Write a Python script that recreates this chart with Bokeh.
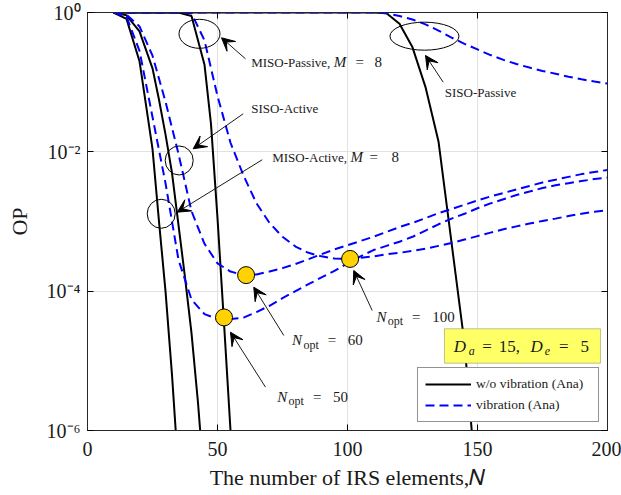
import math
from bokeh.plotting import figure
from bokeh.models import (FixedTicker, LinearAxis, LogAxis, CustomJSTickFormatter, Label,
                          Arrow, VeeHead, BoxAnnotation, Range1d, Legend, LegendItem)
from bokeh.embed import file_html
from bokeh.resources import INLINE

# ---------------- data ----------------
N = [10, 15, 20, 25, 30, 35, 40, 45, 50, 55, 60, 65, 70, 75, 80, 85, 90, 95, 100, 105,
     110, 115, 120, 125, 130, 135, 140, 145, 150, 155, 160, 165, 170, 175, 180, 185, 190, 195, 200]

# w/o vibration (solid black)
n_miso_act_nv = [10, 15, 20, 25, 27.5, 30, 32.5, 35]
op_miso_act_nv = [1.0, 0.81, 0.20, 1.1e-2, 1.0e-3, 1.0e-4, 6.3e-6, 2.5e-7]

n_siso_act_nv = [10, 15, 20, 25, 27.5, 30, 32.5, 35, 37.5, 40, 42.5, 45]
op_siso_act_nv = [1.0, 0.912, 0.537, 0.158, 5.6e-2, 1.78e-2, 5.0e-3, 8.9e-4, 1.58e-4, 2.5e-5, 2.5e-6, 1.6e-7]

n_miso_pas_nv = [10, 35, 40, 45, 47.5, 50, 52.5, 55, 57.5]
op_miso_pas_nv = [1.0, 1.0, 0.89, 0.178, 2.5e-2, 1.12e-3, 3.5e-5, 1.0e-6, 3.2e-8]

n_siso_pas_nv = [10, 110, 115, 120, 125, 130, 135, 140, 145, 150]
op_siso_pas_nv = [1.0, 1.0, 0.977, 0.69, 0.316, 8.5e-2, 1.41e-2, 5.0e-4, 1.78e-5, 1.0e-7]

# vibration (dashed blue), sampled on N
op_miso_act_v = [1.0, 0.871, 0.282, 3.16e-2, 3.55e-3, 2.82e-4, 7.59e-5, 4.68e-5, 3.98e-5, 3.98e-5,
                 4.17e-5, 5.01e-5, 6.17e-5, 7.94e-5, 1.0e-4, 1.26e-4, 1.58e-4, 1.95e-4, 2.51e-4, 3.16e-4,
                 3.89e-4, 4.47e-4, 5.13e-4, 6.03e-4, 7.41e-4, 9.12e-4, 1.10e-3, 1.29e-3, 1.55e-3, 1.82e-3,
                 2.09e-3, 2.40e-3, 2.69e-3, 3.02e-3, 3.31e-3, 3.55e-3, 3.80e-3, 4.07e-3, 4.27e-3]
op_siso_act_v = [1.0, 0.933, 0.631, 0.240, 5.25e-2, 9.33e-3, 1.41e-3, 4.79e-4, 2.51e-4, 1.91e-4,
                 1.70e-4, 1.74e-4, 1.91e-4, 2.14e-4, 2.45e-4, 2.88e-4, 3.39e-4, 3.98e-4, 4.57e-4, 5.25e-4,
                 6.03e-4, 7.08e-4, 8.32e-4, 9.55e-4, 1.12e-3, 1.32e-3, 1.51e-3, 1.74e-3, 2.0e-3, 2.29e-3,
                 2.57e-3, 2.88e-3, 3.24e-3, 3.63e-3, 3.98e-3, 4.37e-3, 4.79e-3, 5.13e-3, 5.5e-3]
op_miso_pas_v = [1.0, 1.0, 1.0, 1.0, 1.0, 1.0, 0.977, 0.398, 6.31e-2, 1.35e-2,
                 4.57e-3, 1.82e-3, 9.55e-4, 6.03e-4, 4.37e-4, 3.55e-4, 3.16e-4, 2.95e-4, 2.88e-4, 3.02e-4,
                 3.16e-4, 3.39e-4, 3.55e-4, 3.80e-4, 4.07e-4, 4.47e-4, 4.90e-4, 5.50e-4, 6.17e-4, 6.92e-4,
                 7.76e-4, 8.51e-4, 9.33e-4, 1.02e-3, 1.10e-3, 1.20e-3, 1.29e-3, 1.38e-3, 1.45e-3]
op_siso_pas_v = [1.0, 1.0, 1.0, 1.0, 1.0, 1.0, 1.0, 1.0, 1.0, 1.0,
                 1.0, 1.0, 1.0, 1.0, 1.0, 1.0, 1.0, 1.0, 1.0, 1.0,
                 1.0, 0.977, 0.891, 0.794, 0.676, 0.550, 0.437, 0.355, 0.295, 0.245,
                 0.209, 0.182, 0.162, 0.145, 0.132, 0.120, 0.110, 0.102, 0.0955]

# optimal points
n_opt = [52.5, 61, 101]
op_opt = [4.2e-5, 1.7e-4, 2.9e-4]

x_ticks = [0, 50, 100, 150, 200]
y_ticks = [1e-6, 1e-4, 1e-2, 1]

TXT = "#1a1a1a"
SERIF = "Liberation Serif"

p = figure(width=621, height=495, output_backend="svg", toolbar_location=None,
           y_axis_type="log", x_range=Range1d(0, 200), y_range=Range1d(1e-6, 1),
           min_border_left=87, min_border_right=14, min_border_top=12, min_border_bottom=65)
p.outline_line_color = "#262626"
p.outline_line_width = 1
p.background_fill_color = "white"

empty = CustomJSTickFormatter(code="return ''")
sup_fmt = CustomJSTickFormatter(code="""
const e = String(Math.round(Math.log10(tick)));
const m = {'0':'\u2070','1':'\u00b9','2':'\u00b2','3':'\u00b3','4':'\u2074','5':'\u2075','6':'\u2076','-':'\u207b'};
return '10' + e.split('').map(c => m[c]).join('');
""")

xa = p.below[0]
xa.ticker = FixedTicker(ticks=x_ticks)
xa.major_tick_in = 6
xa.major_tick_out = 0
xa.minor_tick_line_color = None
xa.major_label_text_font = SERIF
xa.major_label_text_font_size = "20px"
xa.major_label_text_color = TXT
xa.major_label_standoff = 11
xa.axis_line_color = "#262626"
xa.axis_label = "The number of IRS elements,\U0001D441"
xa.axis_label_text_font = SERIF
xa.axis_label_text_font_size = "22px"
xa.axis_label_text_font_style = "normal"
xa.axis_label_text_color = TXT
xa.axis_label_standoff = 6

ya = p.left[0]
ya.ticker = FixedTicker(ticks=y_ticks)
ya.formatter = sup_fmt
ya.major_tick_in = 6
ya.major_tick_out = 0
ya.minor_tick_line_color = None
ya.major_label_text_font = SERIF
ya.major_label_text_font_size = "20px"
ya.major_label_text_color = TXT
ya.major_label_standoff = 7
ya.axis_line_color = "#262626"
ya.axis_label = "OP"
ya.axis_label_text_font = SERIF
ya.axis_label_text_font_size = "22px"
ya.axis_label_text_font_style = "normal"
ya.axis_label_text_color = TXT
ya.axis_label_standoff = 12

top = LinearAxis(ticker=FixedTicker(ticks=x_ticks), formatter=empty, major_tick_in=6, major_tick_out=0,
                 minor_tick_line_color=None, major_label_standoff=0, major_label_text_font_size="0px",
                 axis_label_standoff=0, axis_line_color="#262626")
p.add_layout(top, "above")
right = LogAxis(ticker=FixedTicker(ticks=y_ticks), formatter=empty, major_tick_in=6, major_tick_out=0,
                minor_tick_line_color=None, major_label_standoff=0, major_label_text_font_size="0px",
                axis_label_standoff=0, axis_line_color="#262626")
p.add_layout(right, "right")

p.xgrid.ticker = FixedTicker(ticks=x_ticks)
p.ygrid.ticker = FixedTicker(ticks=y_ticks)
p.xgrid.grid_line_color = "#e2e2e2"
p.ygrid.grid_line_color = "#e2e2e2"

# ---------------- curves ----------------
LW = 2
r_k1 = p.line(n_miso_act_nv, op_miso_act_nv, line_color="black", line_width=LW)
p.line(n_siso_act_nv, op_siso_act_nv, line_color="black", line_width=LW)
p.line(n_miso_pas_nv, op_miso_pas_nv, line_color="black", line_width=LW)
p.line(n_siso_pas_nv, op_siso_pas_nv, line_color="black", line_width=LW)

DASH = "9 5"
r_b1 = p.line(N, op_miso_act_v, line_color="#0000ff", line_width=LW, line_dash=DASH)
p.line(N, op_siso_act_v, line_color="#0000ff", line_width=LW, line_dash=DASH)
p.line(N, op_miso_pas_v, line_color="#0000ff", line_width=LW, line_dash=DASH)
p.line(N, op_siso_pas_v, line_color="#0000ff", line_width=LW, line_dash=DASH)

p.scatter(n_opt, op_opt, marker="circle", size=17, fill_color="#FFD200", line_color="black", line_width=1)

# ---------------- annotations ----------------
ell_n = [43.08, 35.27, 28.35, 129.6]
ell_log = [-0.306, -2.124, -2.889, -0.340]
ell_w = [41, 28, 28, 69]
ell_h = [29, 29, 29, 28]
p.ellipse(x=ell_n, y=[10 ** v for v in ell_log], width=ell_w, height=ell_h,
          width_units="screen", height_units="screen", fill_alpha=0, line_color="black", line_width=1)

arrows = [(60.77, -0.665, 51.54, -0.363),
          (59.88, -1.454, 40.65, -1.956),
          (67.19, -2.114, 34.5, -2.866),
          (136.8, -1.0, 130.0, -0.617),
          (75.5, -4.636, 63.96, -3.943),
          (68.46, -5.378, 55.0, -4.589),
          (109.5, -4.277, 102.4, -3.703)]
for xs, ls, xe, le in arrows:
    p.add_layout(Arrow(x_start=xs, y_start=10 ** ls, x_end=xe, y_end=10 ** le,
                       line_color="black", line_width=0.9,
                       end=VeeHead(size=13, fill_color="black", line_color="black", line_width=1)))


def lab(text, x, lg, size, style="normal", align="left", angle=0.0):
    p.add_layout(Label(x=x, y=10 ** lg, text=text, text_font=SERIF, text_font_size=size,
                       text_font_style=style, text_align=align, text_baseline="middle",
                       text_color=TXT, angle=angle))


# curve labels
lab("MISO-Passive,", 62.96, -0.713, "13px")
lab("M", 94.7, -0.713, "15px", "italic")
lab("=", 103.1, -0.713, "15px")
lab("8", 110.4, -0.713, "15px")
lab("SISO-Active", 62.96, -1.382, "13px")
lab("MISO-Active,", 71.04, -2.077, "13px")
lab("M", 101.15, -2.077, "15px", "italic")
lab("=", 108.5, -2.077, "15px")
lab("8", 116.9, -2.077, "15px")
lab("SISO-Passive", 137.4, -1.144, "13px")

# N_opt labels
for (xn, lg, val) in [(111.15, -4.374, "100"), (78.7, -4.708, "60"), (73.0, -5.522, "50")]:
    lab("N", xn, lg, "15px", "italic")
    lab("opt", xn + 4.35, lg - 0.06, "12px")
    lab("=", xn + 13.7, lg, "15px")
    lab(val, xn + 21.4, lg, "15px")

# parameter box
p.add_layout(BoxAnnotation(left=137.3, right=197.3, top=10 ** -4.540, bottom=10 ** -5.034,
                           fill_color="#ffff66", fill_alpha=1, line_color="#333333", line_width=1))
lab("D", 140.9, -4.794, "17px", "italic")
lab("a", 146.65, -4.86, "12px", "italic")
lab("=", 151.8, -4.794, "17px")
lab("15,", 158.2, -4.794, "17px")
lab("D", 170.4, -4.794, "17px", "italic")
lab("e", 175.9, -4.86, "12px", "italic")
lab("=", 181.3, -4.794, "17px")
lab("5", 189.6, -4.794, "17px")

legend = Legend(items=[LegendItem(label="w/o vibration (Ana)", renderers=[r_k1]),
                       LegendItem(label="vibration (Ana)", renderers=[r_b1])],
                location="bottom_right", margin=8, padding=7, spacing=3,
                glyph_width=46, glyph_height=18, label_height=18, label_width=115, label_standoff=5,
                label_text_font=SERIF, label_text_font_size="13.5px", label_text_color=TXT,
                border_line_color="#262626", border_line_width=1, background_fill_alpha=1)
p.add_layout(legend)

open("out.html", "w").write(file_html(p, INLINE))
